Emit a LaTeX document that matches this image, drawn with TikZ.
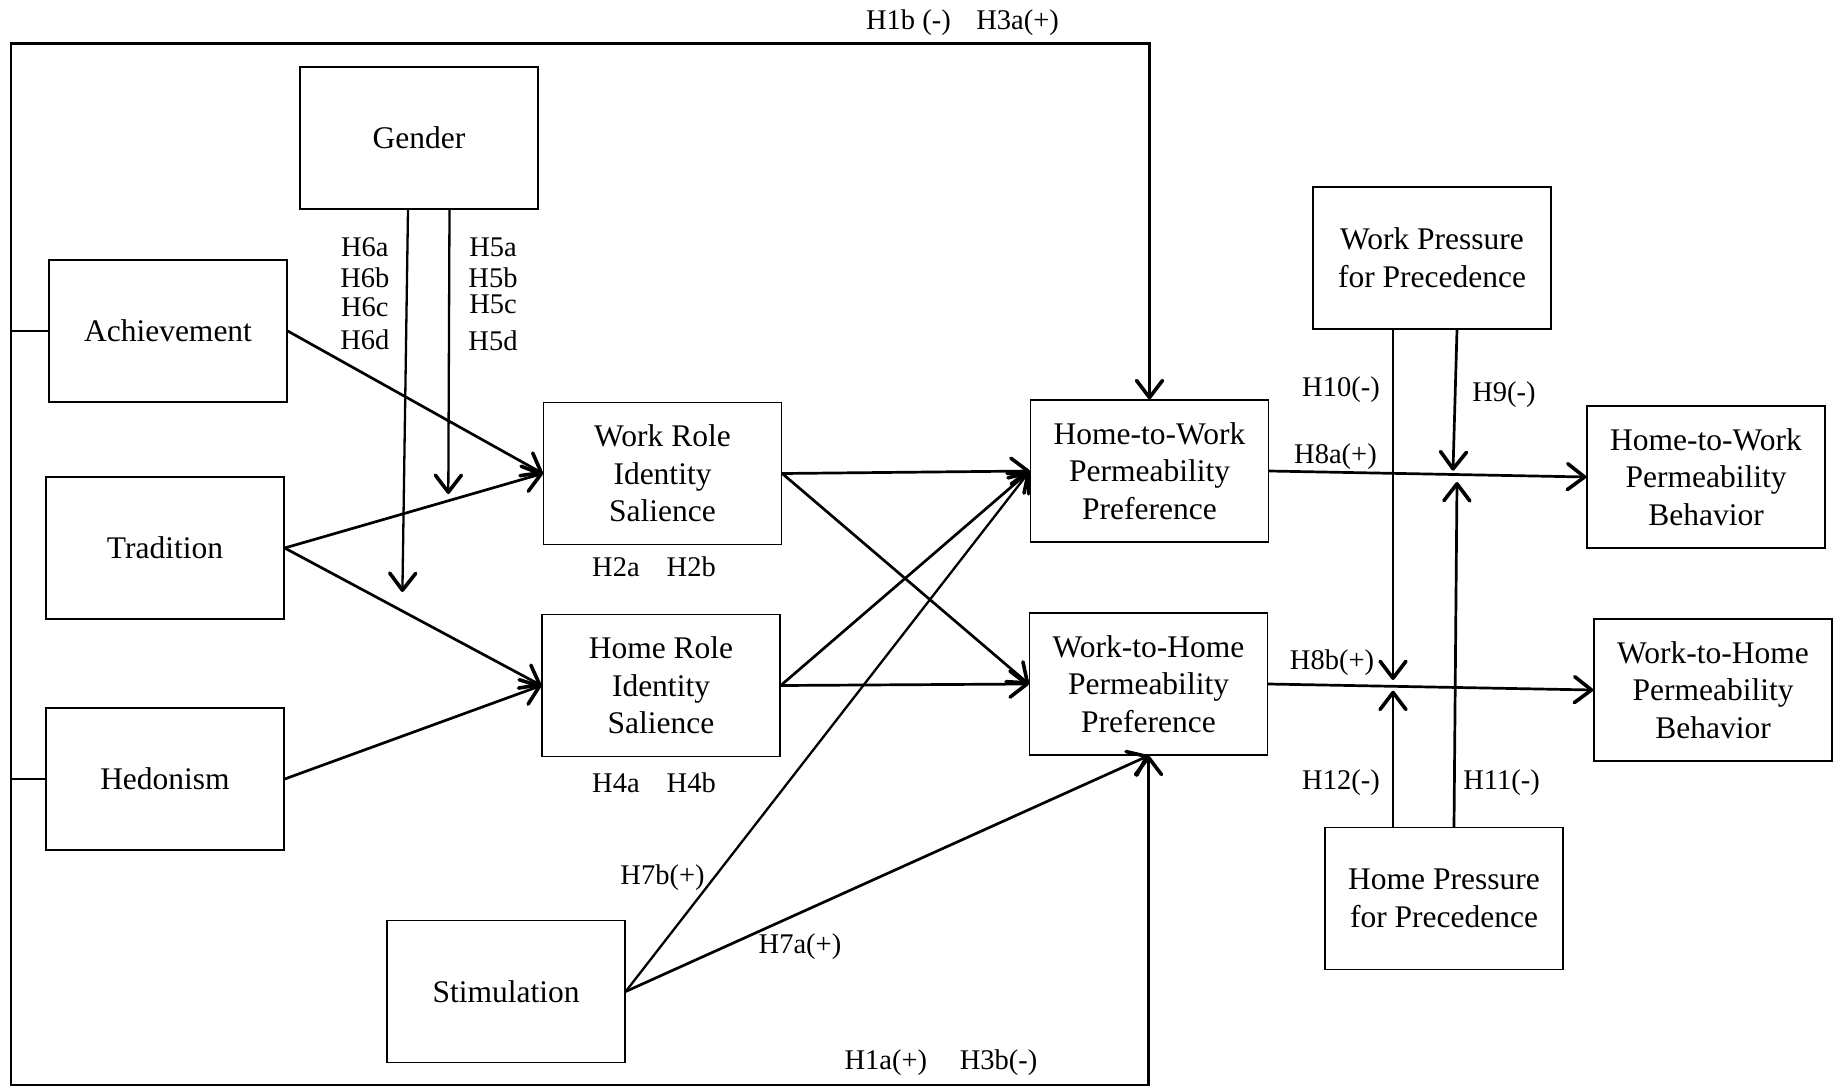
\documentclass[tikz,border=0pt]{standalone}
\usepackage{fontspec}
\setmainfont{Liberation Serif}
\usetikzlibrary{arrows.meta}
\begin{document}
\begin{tikzpicture}[x=1pt,y=-1pt,
  box/.style={draw, line width=1.4pt, minimum width=238pt, minimum height=142pt, inner sep=0pt, align=center, font=\fontsize{31.5}{37.6}\selectfont},
  lab/.style={inner sep=0pt, font=\fontsize{28.5}{34}\selectfont},
  conn/.style={line width=2.7pt},
  arr/.style={conn, -{Straight Barb[length=17pt,width=26pt,line width=3.6pt,round]}}
]
\useasboundingbox (0,0) rectangle (1845,1087);
\fill[white] (0,0) rectangle (1845,1087);

% boxes
\node[box] (gender) at (419,138) {Gender};
\node[box] (ach) at (168,331) {Achievement};
\node[box] (trad) at (165,548) {Tradition};
\node[box] (hed) at (165,779) {Hedonism};
\node[box] (workrole) at (662.5,473.5) {Work Role\\Identity\\Salience};
\node[box] (homerole) at (661,685.5) {Home Role\\Identity\\Salience};
\node[box] (stim) at (506,991.5) {Stimulation};
\node[box] (h2wp) at (1149.5,471) {Home-to-Work\\Permeability\\Preference};
\node[box] (w2hp) at (1148.5,684) {Work-to-Home\\Permeability\\Preference};
\node[box] (wpp) at (1432,258) {Work Pressure\\for Precedence};
\node[box] (hpp) at (1444,898.5) {Home Pressure\\for Precedence};
\node[box] (h2wb) at (1706,477) {Home-to-Work\\Permeability\\Behavior};
\node[box] (w2hb) at (1713,690) {Work-to-Home\\Permeability\\Behavior};

% frame
\coordinate (tl) at (10.6,43.5);
\coordinate (bl) at (10.6,1085);
\draw[line width=2.1pt, {Straight Barb[length=17pt,width=26pt,line width=3.6pt,round]}-{Straight Barb[length=17pt,width=26pt,line width=3.6pt,round]}]
  (h2wp.north) -- (h2wp.north |- tl) -- (tl) -- (bl) -- (w2hp.south |- bl) -- (w2hp.south);
\draw[conn] (ach.west -| tl) -- (ach.west);
\draw[conn] (hed.west -| tl) -- (hed.west);

% gender moderators
\coordinate (g1) at (402.4,592);
\coordinate (g2) at (448.3,494);
\draw[arr, line width=2.3pt] ([xshift=-11pt]gender.south) -- (g1);
\draw[arr, line width=2.3pt] ([xshift=30.5pt]gender.south) -- (g2);

% values to identity salience
\draw[arr] (ach.east) -- (workrole.west);
\draw[arr] (trad.east) -- (workrole.west);
\draw[arr] (trad.east) -- (homerole.west);
\draw[arr] (hed.east) -- (homerole.west);

% salience to preference
\draw[arr] (workrole.east) -- (h2wp.west);
\draw[arr] (workrole.east) -- (w2hp.west);
\draw[arr] (homerole.east) -- (h2wp.west);
\draw[arr] (homerole.east) -- (w2hp.west);

% stimulation
\draw[arr, line width=2.3pt] (stim.east) -- (h2wp.west);
\draw[arr] (stim.east) -- (w2hp.south);

% preference to behavior
\draw[arr] (h2wp.east) -- (h2wb.west);
\draw[arr] (w2hp.east) -- (w2hb.west);

% pressure moderators
\coordinate (p1) at (1393,680);
\coordinate (p2) at (1453,470.7);
\coordinate (p3) at (1393,690.7);
\coordinate (p4) at (1457,482);
\draw[arr] ([xshift=-39pt]wpp.south) -- (p1);
\draw[arr] ([xshift=25pt]wpp.south) -- (p2);
\draw[arr] ([xshift=-51pt]hpp.north) -- (p3);
\draw[arr] ([xshift=10pt]hpp.north) -- (p4);

% labels
\node[lab] (l1) at (962.5,22.4) {H1b (-)\hspace{0.9em}H3a(+)};
\node[lab] (l6a) at (364.8,247) {H6a};
\node[lab] (l6b) at (364.8,277.7) {H6b};
\node[lab] (l6c) at (364.8,307) {H6c};
\node[lab] (l6d) at (364.8,340) {H6d};
\node[lab] (l5a) at (493,247) {H5a};
\node[lab] (l5b) at (493,277.7) {H5b};
\node[lab] (l5c) at (493,304.8) {H5c};
\node[lab] (l5d) at (493,341) {H5d};
\node[lab] (l2) at (654,567) {H2a\hspace{0.95em}H2b};
\node[lab] (l4) at (654,782.5) {H4a\hspace{0.95em}H4b};
\node[lab] (l7b) at (662.5,878) {H7b(+)};
\node[lab] (l7a) at (800,947) {H7a(+)};
\node[lab] (l13) at (941,1062.5) {H1a(+)\hspace{1.15em}H3b(-)};
\node[lab] (l10) at (1341,389.5) {H10(-)};
\node[lab] (l9) at (1504,395) {H9(-)};
\node[lab] (l8a) at (1335.5,456.5) {H8a(+)};
\node[lab] (l8b) at (1332,662.5) {H8b(+)};
\node[lab] (l12) at (1341,782.5) {H12(-)};
\node[lab] (l11) at (1501.5,782.5) {H11(-)};
\end{tikzpicture}
\end{document}
